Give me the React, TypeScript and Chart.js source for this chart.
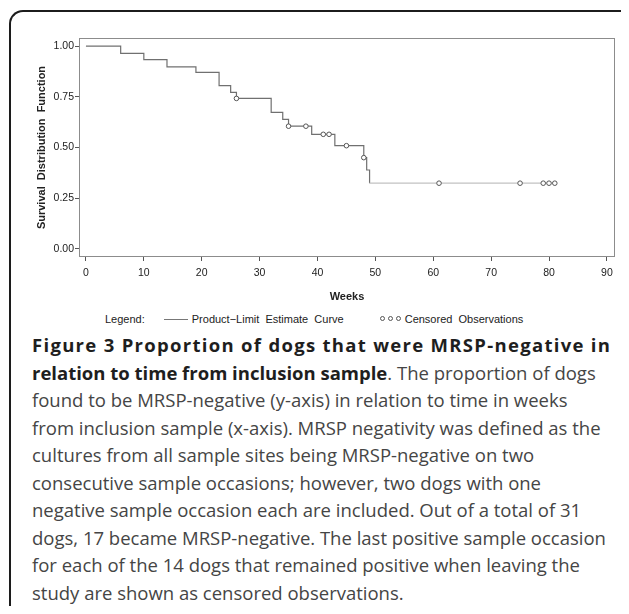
import React, { useEffect, useRef } from "react";
import { Chart, registerables } from "chart.js";

Chart.register(...registerables);

// Kaplan-Meier step curve (weeks, survival)
const stepWeeks = [0, 6, 10, 14, 19, 23, 25, 26, 32, 34, 35, 39, 43, 48, 48.5, 49, 81];
const stepSurvival = [1.0, 0.964, 0.933, 0.898, 0.87, 0.805, 0.772, 0.742, 0.673, 0.639, 0.605, 0.565, 0.509, 0.45, 0.389, 0.324, 0.324];

// Censored observations
const censoredWeeks = [26, 35, 38, 41, 42, 45, 48, 61, 75, 79, 80, 81];
const censoredSurvival = [0.742, 0.605, 0.605, 0.565, 0.565, 0.509, 0.45, 0.324, 0.324, 0.324, 0.324, 0.324];

const xTickValues = [0, 10, 20, 30, 40, 50, 60, 70, 80, 90];
const yTickValues = [0, 0.25, 0.5, 0.75, 1.0];

const xTitle = "Weeks";
const yTitle = "Survival  Distribution  Function";
const curveLabel = "Product\u2212Limit  Estimate  Curve";
const censorLabel = "Censored  Observations";

const captionLines: { bold?: string; text?: string }[] = [
  { bold: "Figure 3 Proportion of dogs that were MRSP-negative in" },
  { bold: "relation to time from inclusion sample", text: ". The proportion of dogs" },
  { text: "found to be MRSP-negative (y-axis) in relation to time in weeks" },
  { text: "from inclusion sample (x-axis). MRSP negativity was defined as the" },
  { text: "cultures from all sample sites being MRSP-negative on two" },
  { text: "consecutive sample occasions; however, two dogs with one" },
  { text: "negative sample occasion each are included. Out of a total of 31" },
  { text: "dogs, 17 became MRSP-negative. The last positive sample occasion" },
  { text: "for each of the 14 dogs that remained positive when leaving the" },
  { text: "study are shown as censored observations." },
];

const SAS_FONT = "'Liberation Sans', Arial, Helvetica, sans-serif";

const framePlugin = {
  id: "frame",
  afterDraw(chart: any) {
    const { ctx, chartArea } = chart;
    ctx.save();
    ctx.strokeStyle = "#8c8c8c";
    ctx.lineWidth = 1;
    ctx.strokeRect(
      Math.round(chartArea.left) + 0.5,
      Math.round(chartArea.top) + 0.5,
      Math.round(chartArea.right - chartArea.left) - 1,
      Math.round(chartArea.bottom - chartArea.top) - 1
    );
    ctx.restore();
  },
};

function KMChart() {
  const ref = useRef<HTMLCanvasElement | null>(null);
  useEffect(() => {
    if (!ref.current) return;
    const curve = stepWeeks.map((w, i) => ({ x: w, y: stepSurvival[i] }));
    const cens = censoredWeeks.map((w, i) => ({ x: w, y: censoredSurvival[i] }));
    const chart = new Chart(ref.current, {
      type: "line",
      data: {
        datasets: [
          {
            label: "Product-Limit Estimate Curve",
            data: curve,
            stepped: true,
            borderColor: "#707070",
            borderWidth: 1.2,
            pointRadius: 0,
            fill: false,
            segment: {
              borderColor: (c: any) => (c.p0.parsed.x >= 49 ? "#c2c2c2" : "#707070"),
            },
            order: 2,
          },
          {
            label: "Censored Observations",
            data: cens,
            showLine: false,
            pointStyle: "circle",
            pointRadius: 2.3,
            pointBorderWidth: 1,
            pointBorderColor: "#555555",
            pointBackgroundColor: "#ffffff",
            order: 1,
          } as any,
        ],
      },
      options: {
        animation: false,
        responsive: false,
        maintainAspectRatio: false,
        events: [],
        layout: { padding: { left: 0, top: 38, right: 14, bottom: 5 } },
        plugins: { legend: { display: false }, tooltip: { enabled: false } },
        scales: {
          x: {
            type: "linear",
            min: -1.2,
            max: 91.4,
            afterBuildTicks: (s: any) => {
              s.ticks = xTickValues.map((v) => ({ value: v }));
            },
            afterFit: (s: any) => {
              s.height = 48;
            },
            border: { display: false },
            grid: { display: true, drawOnChartArea: false, drawTicks: true, tickLength: 4, color: "#555555" },
            ticks: {
              padding: 6,
              maxRotation: 0,
              autoSkip: false,
              color: "#222222",
              font: { family: SAS_FONT, size: 10.5 },
              callback: (v: any) => String(v),
            },
            title: {
              display: true,
              text: xTitle,
              color: "#222222",
              font: { family: SAS_FONT, size: 11, weight: "bold", lineHeight: 1.2 },
              padding: { top: 0, bottom: 1.4 },
            },
          },
          y: {
            type: "linear",
            min: -0.04,
            max: 1.04,
            afterBuildTicks: (s: any) => {
              s.ticks = yTickValues.map((v) => ({ value: v }));
            },
            afterFit: (s: any) => {
              s.width = 79;
            },
            border: { display: false },
            grid: { display: true, drawOnChartArea: false, drawTicks: true, tickLength: 4, color: "#555555" },
            ticks: {
              padding: 1,
              autoSkip: false,
              color: "#222222",
              font: { family: SAS_FONT, size: 10.5 },
              callback: (v: any) => Number(v).toFixed(2),
            },
            title: {
              display: true,
              text: yTitle,
              color: "#222222",
              font: { family: SAS_FONT, size: 11, weight: "bold", lineHeight: 1.2 },
              padding: { top: 35.4, bottom: 0 },
            },
          },
        },
      },
      plugins: [framePlugin],
    } as any);
    return () => chart.destroy();
  }, []);
  return (
    <canvas
      ref={ref}
      width={629}
      height={310}
      style={{ position: "absolute", left: -8, top: -8, width: 629, height: 310 }}
    />
  );
}

function CensorGlyph() {
  const dot = (i: number) => (
    <span
      key={i}
      style={{
        display: "inline-block",
        width: 3,
        height: 3,
        border: "1px solid #555",
        borderRadius: "50%",
        marginRight: 3,
        verticalAlign: "middle",
        position: "relative",
        top: -2,
      }}
    />
  );
  return <span>{[0, 1, 2].map(dot)}</span>;
}

export default function App() {
  useEffect(() => {
    document.body.style.overflow = "hidden";
  }, []);
  return (
    <div style={{ position: "relative", width: 613, height: 598 }}>
      <div
        style={{
          position: "absolute",
          left: 1,
          top: 2,
          width: 618,
          height: 602,
          borderTop: "2px solid #1c1c1c",
          borderLeft: "2px solid #1c1c1c",
          borderTopLeftRadius: 14,
          borderTopRightRadius: 8,
        }}
      />
      <KMChart />
      {/* Legend */}
      <div
        style={{
          position: "absolute",
          left: 105 - 8,
          top: 319 - 8 - 7,
          height: 14,
          lineHeight: "14px",
          fontFamily: SAS_FONT,
          fontSize: 11,
          color: "#222",
          whiteSpace: "pre",
          display: "flex",
          alignItems: "center",
        }}
      >
        <span>Legend:</span>
        <span
          style={{ display: "inline-block", width: 24, height: 0, borderTop: "1px solid #777", marginLeft: 19, marginRight: 4 }}
        />
        <span>{curveLabel}</span>
        <span style={{ marginLeft: 36, marginRight: 1 }}>
          <CensorGlyph />
        </span>
        <span>{censorLabel}</span>
      </div>
      {/* Caption */}
      <div
        style={{
          position: "absolute",
          left: 32 - 8,
          top: 331 - 8,
          fontFamily: "'Open Sans', 'Noto Sans', sans-serif",
          fontSize: 18.5,
          lineHeight: "27.5px",
          color: "#454545",
          whiteSpace: "nowrap",
        }}
      >
        {captionLines.map((l, i) => (
          <div key={i}>
            {l.bold ? (
              <span style={{ fontWeight: 700, color: "#1e1e1e", letterSpacing: i === 0 ? 1.3 : 0 }}>{l.bold}</span>
            ) : null}
            {l.text ? <span>{l.text}</span> : null}
          </div>
        ))}
      </div>
    </div>
  );
}
